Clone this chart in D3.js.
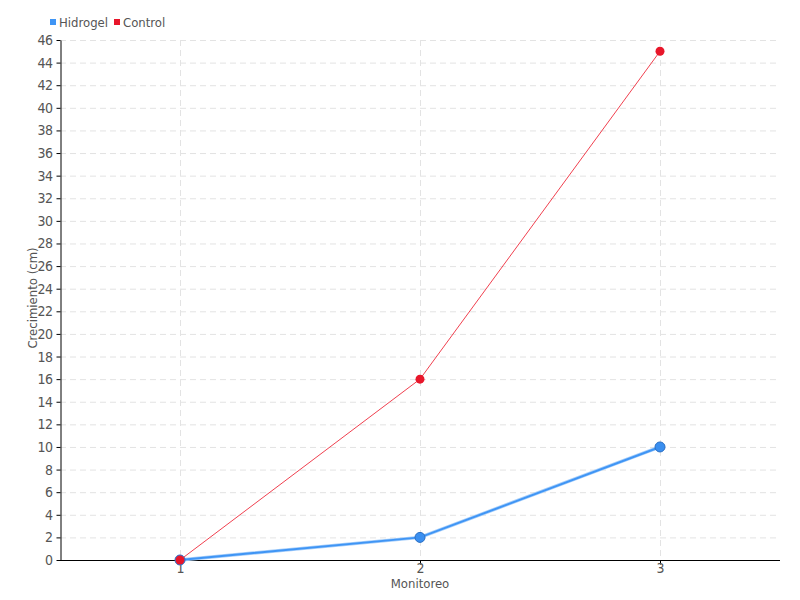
<!DOCTYPE html>
<html>
<head>
<meta charset="utf-8">
<script src="https://cdn.jsdelivr.net/npm/d3@7/dist/d3.min.js"></script>
<style>
  body { margin: 0; background: #fff; }
  svg text { font-family: "DejaVu Sans Condensed", "Liberation Sans Narrow", sans-serif; fill: #555; }
</style>
</head>
<body>
<svg id="chart" width="800" height="600"></svg>
<script>
// chart data
const monitoreo = ["1", "2", "3"]
const hidrogel = [0, 2, 10]
const control = [0, 16, 45]
const yTicks = d3.range(0, 47, 2)

const width = 800
const height = 600
const margin = { top: 40, right: 20, bottom: 40, left: 60 }
const plotWidth = width - margin.left - margin.right
const plotHeight = height - margin.top - margin.bottom

const svg = d3.select("#chart")
const g = svg.append("g")
    .attr("transform", `translate(${margin.left},${margin.top})`)

const x = d3.scalePoint()
    .domain(monitoreo)
    .range([0, plotWidth])
    .padding(0.5)
const y = d3.scaleLinear()
    .domain([0, 46])
    .range([plotHeight, 0])

// grid
g.append("g")
    .selectAll("line")
    .data(yTicks.slice(1))
    .join("line")
    .attr("x1", 0)
    .attr("x2", plotWidth)
    .attr("y1", d => y(d) + 0.5)
    .attr("y2", d => y(d) + 0.5)
    .attr("stroke", "#e3e3e3")
    .attr("stroke-dasharray", "6,4")
g.append("g")
    .selectAll("line")
    .data(monitoreo)
    .join("line")
    .attr("x1", d => x(d) + 0.5)
    .attr("x2", d => x(d) + 0.5)
    .attr("y1", 0)
    .attr("y2", plotHeight)
    .attr("stroke", "#e3e3e3")
    .attr("stroke-dasharray", "6,4")

// axes
const axisY = g.append("g")
    .attr("transform", "translate(0.5,0)")
    .call(d3.axisLeft(y).tickValues(yTicks).tickSize(4).tickSizeOuter(0))
axisY.selectAll("text").style("font-size", "14px").style("letter-spacing", "-0.5px").attr("dx", "-1")
axisY.select(".domain").attr("stroke", "#000")

const axisX = g.append("g")
    .attr("transform", `translate(0,${plotHeight + 0.5})`)
    .call(d3.axisBottom(x).tickSize(4).tickSizeOuter(0))
axisX.selectAll("text").style("font-size", "14px").attr("y", 3).attr("dy", "0.71em")
axisX.select(".domain").attr("stroke", "#000").attr("d", `M0,0H${plotWidth}`)

// axis titles
svg.append("text")
    .attr("x", margin.left + plotWidth / 2)
    .attr("y", 588)
    .attr("text-anchor", "middle")
    .style("font-size", "13px")
    .text("Monitoreo")
svg.append("text")
    .attr("transform", `translate(37,${margin.top + plotHeight / 2 - 2}) rotate(-90)`)
    .attr("text-anchor", "middle")
    .style("font-size", "13px")
    .text("Crecimiento (cm)")

// series
const line = d3.line()
    .x((d, i) => x(monitoreo[i]))
    .y(d => y(d))

g.append("path")
    .datum(hidrogel)
    .attr("d", line)
    .attr("fill", "none")
    .attr("stroke", "#a8cffa")
    .attr("stroke-width", 3.5)
g.append("path")
    .datum(hidrogel)
    .attr("d", line)
    .attr("fill", "none")
    .attr("stroke", "#3f95f5")
    .attr("stroke-width", 2)
g.append("g")
    .selectAll("circle")
    .data(hidrogel)
    .join("circle")
    .attr("cx", (d, i) => x(monitoreo[i]))
    .attr("cy", d => y(d))
    .attr("r", 5)
    .attr("fill", "#3a8ff0")
    .attr("stroke", "#2a6fc4")
    .attr("stroke-width", 1)

g.append("path")
    .datum(control)
    .attr("d", line)
    .attr("fill", "none")
    .attr("stroke", "#f0404f")
    .attr("stroke-width", 1)
g.append("g")
    .selectAll("circle")
    .data(control)
    .join("circle")
    .attr("cx", (d, i) => x(monitoreo[i]))
    .attr("cy", d => y(d))
    .attr("r", 4.5)
    .attr("fill", "#e8162a")

// legend
const legend = svg.append("g").attr("transform", "translate(50,17)")
const series = [["Hidrogel", "#3f95f5", 0], ["Control", "#e8162a", 64]]
series.forEach(([name, color, dx]) => {
    legend.append("rect")
        .attr("x", dx)
        .attr("y", 2)
        .attr("width", 6)
        .attr("height", 6)
        .attr("fill", color)
    legend.append("text")
        .attr("x", dx + 9)
        .attr("y", 10)
        .style("font-size", "13px")
        .text(name)
})
</script>
</body>
</html>
